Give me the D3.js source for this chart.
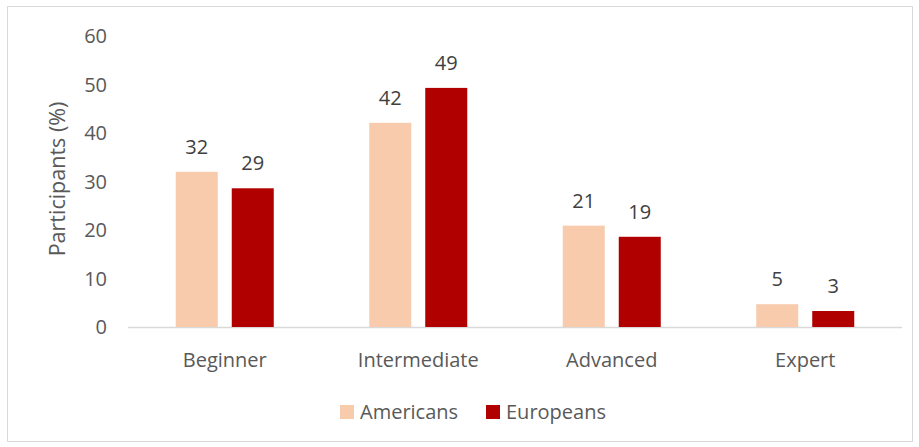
<!DOCTYPE html>
<html>
<head>
<meta charset="utf-8">
<script src="https://cdn.jsdelivr.net/npm/d3@7"></script>
<style>
  body { margin: 0; background: #fff; }
  svg text { font-family: "Open Sans", "Noto Sans", sans-serif; }
</style>
</head>
<body>
<div id="bar-chart"></div>
<script>
// data
const categories = ["Beginner", "Intermediate", "Advanced", "Expert"];
const americans = [32.0, 42.1, 20.9, 4.7];
const europeans = [28.6, 49.3, 18.6, 3.3];
const series_names = ["Americans", "Europeans"];
const y_ticks = [0, 10, 20, 30, 40, 50, 60];

const colors = ["#f8cbad", "#b00000"];

const W = 919, H = 447;
const margin = {top: 36, left: 128, right: 17, bottom: 120};

const svg = d3.select("#bar-chart")
	.append("svg")
	.attr("width", W)
	.attr("height", H);

// outer frame
svg.append("rect")
	.attr("x", 7.5).attr("y", 6.5)
	.attr("width", W - 14).attr("height", H - 12)
	.attr("fill", "none")
	.attr("stroke", "#d9d9d9");

const x = d3.scaleBand()
	.domain(categories)
	.range([margin.left, W - margin.right]);

const x_inner = d3.scaleBand()
	.domain(series_names)
	.range([0, 98])
	.paddingInner(0.25);

const y = d3.scaleLinear()
	.domain([0, 60])
	.range([327, 36]);

// y tick labels (no axis line)
svg.append("g")
	.selectAll("text")
	.data(y_ticks)
	.join("text")
	.attr("x", 107)
	.attr("y", d => y(d))
	.attr("dy", "0.36em")
	.attr("text-anchor", "end")
	.attr("fill", "#595959")
	.style("font-size", "20px")
	.text(d => d);

// baseline
svg.append("line")
	.attr("x1", margin.left).attr("x2", W - margin.right)
	.attr("y1", y(0) + 0.5).attr("y2", y(0) + 0.5)
	.attr("stroke", "#d9d9d9")
	.attr("stroke-width", 1.5);

// category labels
svg.append("g")
	.selectAll("text")
	.data(categories)
	.join("text")
	.attr("x", d => x(d) + x.bandwidth() / 2)
	.attr("y", 367)
	.attr("text-anchor", "middle")
	.attr("fill", "#595959")
	.style("font-size", "20px")
	.text(d => d);

// y title
svg.append("text")
	.attr("transform", "translate(65,179) rotate(-90)")
	.attr("text-anchor", "middle")
	.attr("fill", "#595959")
	.style("font-size", "21.5px")
	.text("Participants (%)");

const all_series = [americans, europeans];
all_series.forEach((values, si) => {
	const rows = categories.map((c, i) => ({cat: c, value: values[i]}));
	const g = svg.append("g");
	const x0 = d => x(d.cat) + x.bandwidth() / 2 - 49 + x_inner(series_names[si]);

	g.selectAll("rect")
		.data(rows)
		.join("rect")
		.attr("x", x0)
		.attr("y", d => y(d.value))
		.attr("width", x_inner.bandwidth())
		.attr("height", d => y(0) - y(d.value))
		.attr("fill", colors[si]);

	g.selectAll("text")
		.data(rows)
		.join("text")
		.attr("x", d => x0(d) + x_inner.bandwidth() / 2)
		.attr("y", d => y(d.value) - 18)
		.attr("text-anchor", "middle")
		.attr("fill", "#404040")
		.style("font-size", "20px")
		.text(d => Math.round(d.value));
});

// legend
const legend_x = [340, 486];
const legend = svg.append("g")
	.selectAll("g")
	.data(series_names)
	.join("g")
	.attr("transform", (d, i) => "translate(" + legend_x[i] + ",405)");

legend.append("rect")
	.attr("width", 14).attr("height", 14)
	.attr("fill", (d, i) => colors[i]);

legend.append("text")
	.attr("x", 20).attr("y", 7)
	.attr("dy", "0.36em")
	.attr("fill", "#595959")
	.style("font-size", "20px")
	.text(d => d);
</script>
</body>
</html>
